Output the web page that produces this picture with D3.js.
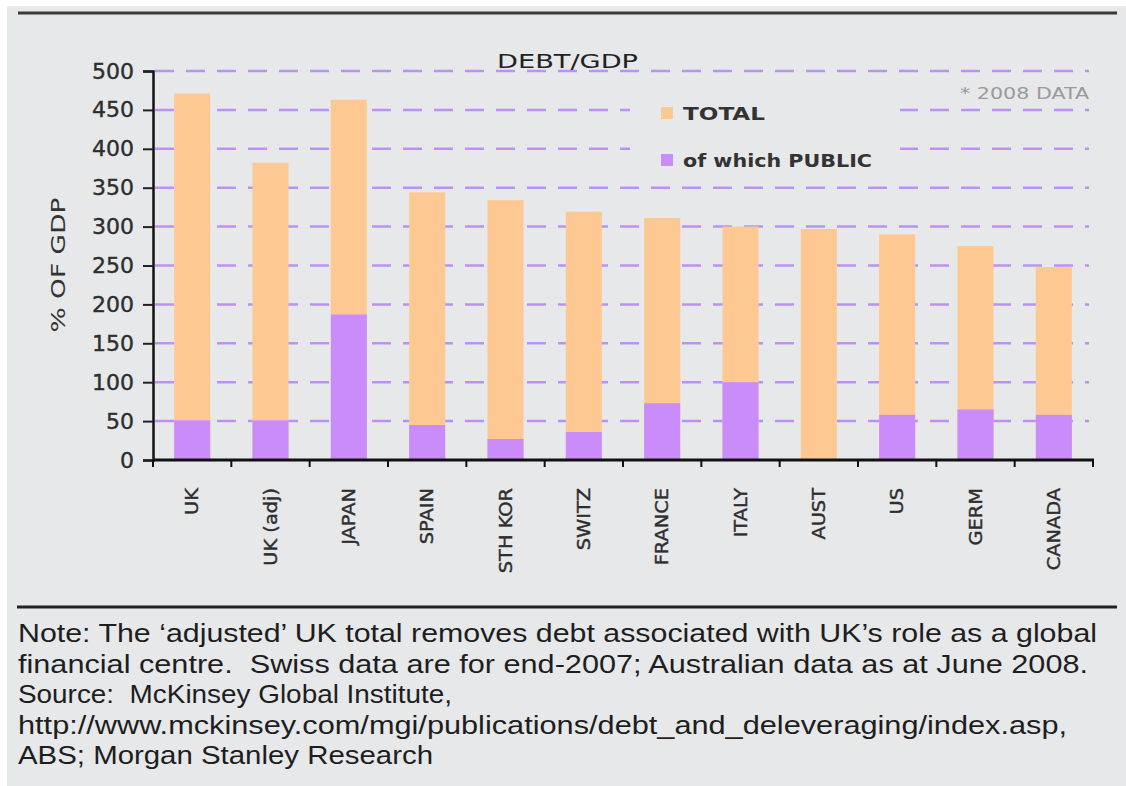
<!DOCTYPE html>
<html>
<head>
<meta charset="utf-8">
<script src="https://cdn.jsdelivr.net/npm/d3@7"></script>
<style>
  html, body { margin: 0; padding: 0; background: #ffffff; }
  svg { display: block; }
  .note { white-space: pre; }
</style>
</head>
<body>
<svg id="chart" width="1126" height="786"></svg>
<script>
// Debt to GDP by country, total and public portion (% of GDP)
const countries = ["UK", "UK (adj)", "JAPAN", "SPAIN", "STH KOR", "SWITZ", "FRANCE", "ITALY", "AUST", "US", "GERM", "CANADA"];
const totalDebt = [471, 382, 463, 344, 334, 319, 311, 300, 297, 290, 275, 248];
const publicDebt = [51, 51, 187, 45, 27, 36, 73, 100, 0, 58, 65, 58];
const yTicks = [0, 50, 100, 150, 200, 250, 300, 350, 400, 450, 500];
const legendLabels = ["TOTAL", "of which PUBLIC"];
const noteLines = [
  "Note: The \u2018adjusted\u2019 UK total removes debt associated with UK\u2019s role as a global",
  "financial centre.  Swiss data are for end-2007; Australian data as at June 2008.",
  "Source:  McKinsey Global Institute,",
  "http://www.mckinsey.com/mgi/publications/debt_and_deleveraging/index.asp,",
  "ABS; Morgan Stanley Research"
];

const svg = d3.select("#chart");
const bg = "#e6e8ea";
const orange = "#fec893";
const purple = "#c98cfa";
const gridColor = "#bb92f2";

// panel background and rules
svg.append("rect").attr("x", 7).attr("y", 6).attr("width", 1119).attr("height", 780).attr("fill", bg);
svg.append("line").attr("x1", 18).attr("x2", 1117).attr("y1", 13).attr("y2", 13)
  .attr("stroke", "#3a3a3a").attr("stroke-width", 3);
svg.append("line").attr("x1", 17).attr("x2", 1117).attr("y1", 607).attr("y2", 607)
  .attr("stroke", "#222").attr("stroke-width", 3);

const plot = { left: 153, right: 1093, top: 71, bottom: 460 };

const x = d3.scaleBand().domain(countries)
  .range([plot.left, plot.right]).paddingInner(0.54).paddingOuter(0.27);
const y = d3.scaleLinear().domain([0, 500]).range([plot.bottom, plot.top]);

// dashed gridlines
svg.append("g").selectAll("line").data(yTicks.filter(d => d > 0)).join("line")
  .attr("x1", plot.left + 2).attr("x2", plot.right - 4)
  .attr("y1", d => y(d)).attr("y2", d => y(d))
  .attr("stroke", gridColor).attr("stroke-width", 2.5)
  .attr("stroke-dasharray", "19,12");

// legend panel masks the gridlines behind it
svg.append("rect").attr("x", 630).attr("y", 90).attr("width", 270).attr("height", 86).attr("fill", bg);

// total bars
svg.append("g").selectAll("rect").data(countries).join("rect")
  .attr("x", d => x(d)).attr("width", x.bandwidth())
  .attr("y", (d, i) => y(totalDebt[i]))
  .attr("height", (d, i) => y(0) - y(totalDebt[i]))
  .attr("fill", orange);

// public portion
svg.append("g").selectAll("rect").data(countries).join("rect")
  .attr("x", d => x(d)).attr("width", x.bandwidth())
  .attr("y", (d, i) => y(publicDebt[i]))
  .attr("height", (d, i) => y(0) - y(publicDebt[i]))
  .attr("fill", purple);

// y axis
const yAxis = svg.append("g").attr("transform", `translate(${plot.left},0)`)
  .call(d3.axisLeft(y).tickValues(yTicks).tickSize(10).tickPadding(9));
yAxis.select(".domain").attr("stroke", "#111").attr("stroke-width", 2.5);
yAxis.selectAll(".tick line").attr("stroke", "#222").attr("stroke-width", 2);
yAxis.selectAll(".tick text").attr("font-family", "DejaVu Sans").attr("font-size", 22)
  .attr("fill", "#2e2e2e").attr("stroke", "#2e2e2e").attr("stroke-width", 0.4);

// x axis with ticks at band boundaries
svg.append("line").attr("x1", plot.left).attr("x2", plot.right + 1)
  .attr("y1", plot.bottom).attr("y2", plot.bottom)
  .attr("stroke", "#111").attr("stroke-width", 3);
const step = x.step();
const bounds = d3.range(countries.length + 1).map(i => plot.left + i * step);
svg.append("g").selectAll("line").data(bounds).join("line")
  .attr("x1", d => d).attr("x2", d => d)
  .attr("y1", plot.bottom).attr("y2", plot.bottom + 7)
  .attr("stroke", "#111").attr("stroke-width", 2);

// rotated category labels
svg.append("g").selectAll("text").data(countries).join("text")
  .attr("transform", d => `translate(${x(d) + x.bandwidth() / 2 + 6},488) rotate(-90) scale(1.14,1)`)
  .attr("text-anchor", "end")
  .attr("font-family", "DejaVu Sans").attr("font-size", 17)
  .attr("fill", "#2e2e2e").attr("stroke", "#2e2e2e").attr("stroke-width", 0.4)
  .text(d => d);

// y axis title
svg.append("text")
  .attr("transform", "translate(65,265) rotate(-90)")
  .attr("text-anchor", "middle")
  .attr("font-family", "DejaVu Sans").attr("font-size", 19)
  .attr("fill", "#333")
  .attr("textLength", 135).attr("lengthAdjust", "spacingAndGlyphs")
  .text("% OF GDP");

// chart title
svg.append("text")
  .attr("x", 497).attr("y", 68)
  .attr("font-family", "DejaVu Sans").attr("font-size", 20)
  .attr("fill", "#222")
  .attr("textLength", 141).attr("lengthAdjust", "spacingAndGlyphs")
  .text("DEBT/GDP");

svg.append("text")
  .attr("x", 960).attr("y", 99)
  .attr("font-family", "DejaVu Sans").attr("font-size", 15)
  .attr("fill", "#9a9a9a")
  .attr("textLength", 129).attr("lengthAdjust", "spacingAndGlyphs")
  .text("* 2008 DATA");

// legend
const legendColors = [orange, purple];
const legendY = [113, 160];
const legendLen = [82, 189];
const lg = svg.append("g");
lg.selectAll("rect").data(legendLabels).join("rect")
  .attr("x", 661).attr("y", (d, i) => legendY[i] - 6)
  .attr("width", 12).attr("height", 12)
  .attr("fill", (d, i) => legendColors[i]);
lg.selectAll("text").data(legendLabels).join("text")
  .attr("x", 683).attr("y", (d, i) => legendY[i] + 7)
  .attr("font-family", "DejaVu Sans").attr("font-weight", "bold").attr("font-size", 18)
  .attr("fill", "#333")
  .attr("textLength", (d, i) => legendLen[i]).attr("lengthAdjust", "spacingAndGlyphs")
  .text(d => d);

// footnote
const noteLen = [1079, 1070, 434, 1049, 415];
svg.append("g").selectAll("text").data(noteLines).join("text")
  .attr("class", "note")
  .attr("x", 18).attr("y", (d, i) => 642 + i * 30.5)
  .attr("font-family", "Liberation Sans").attr("font-size", 25)
  .attr("fill", "#1e1e1e")
  .attr("textLength", (d, i) => noteLen[i]).attr("lengthAdjust", "spacingAndGlyphs")
  .text(d => d);
</script>
</body>
</html>
